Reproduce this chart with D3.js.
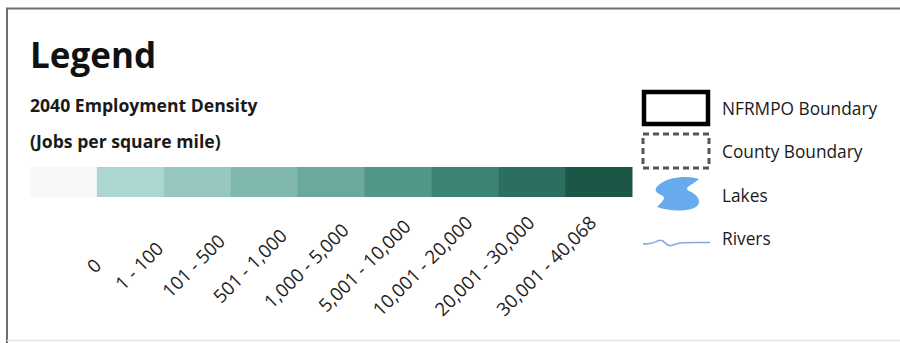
<!DOCTYPE html>
<html><head><meta charset="utf-8">
<script src="https://cdn.jsdelivr.net/npm/d3@7"></script>
<style>html,body{margin:0;padding:0;background:#fff;}svg{display:block;}</style>
</head><body>
<script>
// ---- data ----
const categories = ["0","1 - 100","101 - 500","501 - 1,000","1,000 - 5,000","5,001 - 10,000","10,001 - 20,000","20,001 - 30,000","30,001 - 40,068"];
const classColors = ["#f7f9f8","#acd7d0","#97c8bf","#81b8ae","#6ba89d","#529589","#3b8474","#2c6e60","#1b5647"];
const titleText = "Legend";
const subtitleLines = ["2040 Employment Density","(Jobs per square mile)"];
const symbolLabels = ["NFRMPO Boundary","County Boundary","Lakes","Rivers"];

const W = 900, H = 343;
const svg = d3.select("body").append("svg").attr("width", W).attr("height", H);
const font = "'Open Sans', 'Noto Sans', sans-serif";

// frame
svg.append("path").attr("d", `M7,${H} L7,8.5 L${W},8.5`).attr("fill","none").attr("stroke","#6f6f6f").attr("stroke-width",2);
svg.append("line").attr("x1",7).attr("x2",W).attr("y1",H-2.5).attr("y2",H-2.5).attr("stroke","#e4e4e4").attr("stroke-width",1.5);

// titles
svg.append("text").attr("x",30).attr("y",68).text(titleText)
  .attr("font-family",font).attr("font-weight",700).attr("font-size",35).attr("fill","#111");
svg.selectAll("text.sub").data(subtitleLines).join("text").attr("class","sub")
  .attr("x",30).attr("y",(d,i)=>112 + i*36).text(d=>d)
  .attr("font-family",font).attr("font-weight",700).attr("font-size",17.6).attr("fill","#1a1a1a");

// colour bar
const x = d3.scaleBand().domain(categories).range([30, 632]).padding(0);
const barY = 167, barH = 30;
svg.selectAll("rect.cell").data(categories).join("rect").attr("class","cell")
  .attr("x", d=>x(d)).attr("y", barY).attr("width", x.bandwidth()+0.5).attr("height", barH)
  .attr("fill", (d,i)=>classColors[i]);

// rotated labels: end-point positions from a point scale, centred vertically at a common line
const lx = d3.scalePoint().domain(categories).range([101, 596]);
const labelMidY = 266;
const lab = svg.selectAll("text.lab").data(categories).join("text").attr("class","lab")
  .text(d=>d).attr("font-family",font).attr("font-size",18.6).attr("fill","#1e1e1e")
  .attr("text-anchor","middle").attr("dy","0.35em");
lab.each(function(d){
  const len = this.getComputedTextLength();
  const ex = lx(d) - 3;
  const cx = ex - len/(2*Math.SQRT2);
  d3.select(this).attr("transform", `translate(${cx},${labelMidY}) rotate(-45)`);
});

// right-side symbol legend
const sy = d3.scalePoint().domain(symbolLabels).range([110, 240]);
const g = svg.append("g");
g.selectAll("text.sym").data(symbolLabels).join("text").attr("class","sym")
  .attr("x", 722).attr("y", d=>sy(d)+5).text(d=>d)
  .attr("font-family",font).attr("font-size",17.3).attr("fill","#1a1a1a");

// NFRMPO boundary
g.append("rect").attr("x",644).attr("y",92).attr("width",64).attr("height",32)
  .attr("fill","#fff").attr("stroke","#000").attr("stroke-width",4.5);
// County boundary
g.append("rect").attr("x",643).attr("y",134).attr("width",66).attr("height",34)
  .attr("fill","#fff").attr("stroke","#555").attr("stroke-width",3).attr("stroke-dasharray","6,4");
// Lakes
g.append("path")
  .attr("d","M660,184 C668,177 688,175 699,179 C693,185 683,187 689,191 C699,195 703,204 694,208 C684,212 668,211 657,207 C663,201 667,197 661,195 C654,192 654,188 660,184 Z")
  .attr("fill","#68aaee");
// Rivers
const river = [[643,244],[652,243.5],[657,241],[662,239.5],[666,244],[670,246.5],[675,244],[682,242.5],[695,242.5],[710,242.5]];
g.append("path").attr("d", d3.line().curve(d3.curveBasis)(river))
  .attr("fill","none").attr("stroke","#86a9de").attr("stroke-width",1.6);
</script>
</body></html>
